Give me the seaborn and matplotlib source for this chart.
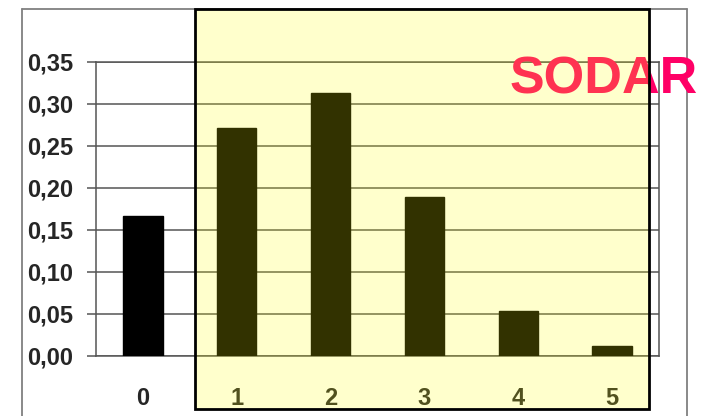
import matplotlib
matplotlib.use("Agg")
import matplotlib.pyplot as plt
from matplotlib.patches import Rectangle
from matplotlib.lines import Line2D
import seaborn as sns
import pandas as pd
import numpy as np

# Probability of each count
categories = ["0", "1", "2", "3", "4", "5"]
probabilities = [0.167, 0.272, 0.313, 0.189, 0.054, 0.012]
y_ticks = [0.00, 0.05, 0.10, 0.15, 0.20, 0.25, 0.30, 0.35]
y_tick_labels = ["0,00", "0,05", "0,10", "0,15", "0,20", "0,25", "0,30", "0,35"]
highlight_label = "SODAR"

sns.set_style("white")
plt.rcParams["font.family"] = ["Liberation Sans", "DejaVu Sans"]

W, H = 701, 416
fig = plt.figure(figsize=(W / 100, H / 100), dpi=100)
fig.patch.set_facecolor("white")

def fx(px):
    return px / W

def fy(py):
    return 1 - py / H

ax = fig.add_axes([fx(96), fy(356), fx(659) - fx(96), fy(62) - fy(356)])

df = pd.DataFrame({"k": categories, "p": probabilities})
sns.barplot(data=df, x="k", y="p", color="black", width=0.42,
            saturation=1, ax=ax, zorder=3)
for bar in ax.patches:
    bar.set_edgecolor("black")

grid_col = "#555555"
ax.set_xlim(-0.5, len(categories) - 0.5)
ax.set_ylim(0, 0.35)
ax.set_yticks(y_ticks)
ax.set_yticklabels(y_tick_labels, fontsize=17, fontweight="bold")
ax.yaxis.grid(True, color=grid_col, linewidth=1.1, zorder=1)
ax.set_axisbelow(True)

ax.set_xticks(range(len(categories)))
ax.set_xticklabels(categories, fontsize=17, fontweight="bold")
ax.set_xticks(np.arange(-0.5, len(categories), 1.0), minor=True)
ax.tick_params(axis="x", which="major", length=0, pad=22)
ax.tick_params(axis="x", which="minor", direction="out", length=6,
               width=1.1, color=grid_col)
ax.tick_params(axis="y", direction="out", length=6.5, width=1.1,
               color=grid_col, pad=10, left=True)
ax.set_xlabel("")
ax.set_ylabel("")

for side in ["left", "right", "bottom", "top"]:
    ax.spines[side].set_visible(True)
    ax.spines[side].set_color(grid_col)
    ax.spines[side].set_linewidth(1.1)

# Outer chart frame
frame_col = "#808080"
for xs, ys in [([fx(22), fx(22)], [fy(9), 0]),
               ([fx(22), fx(687)], [fy(9), fy(9)]),
               ([fx(687), fx(687)], [fy(9), 0])]:
    fig.add_artist(Line2D(xs, ys, color=frame_col, linewidth=1.3,
                          transform=fig.transFigure, zorder=2))

# Label sits beneath the translucent highlight
fig.text(fx(510), fy(93), highlight_label, color="#FF0066", fontsize=37.5,
         fontweight="bold", ha="left", va="baseline", zorder=4)

# Translucent highlight over categories 1..5
fig.add_artist(Rectangle((fx(195), fy(409)), fx(649) - fx(195), fy(9) - fy(409),
                         transform=fig.transFigure, facecolor=(1, 1, 0, 0.2),
                         edgecolor="none", zorder=5))
fig.add_artist(Rectangle((fx(195), fy(409)), fx(649) - fx(195), fy(9) - fy(409),
                         transform=fig.transFigure, facecolor="none",
                         edgecolor="black", linewidth=2.0, zorder=6))

fig.savefig("out.png", dpi=100, facecolor="white")
